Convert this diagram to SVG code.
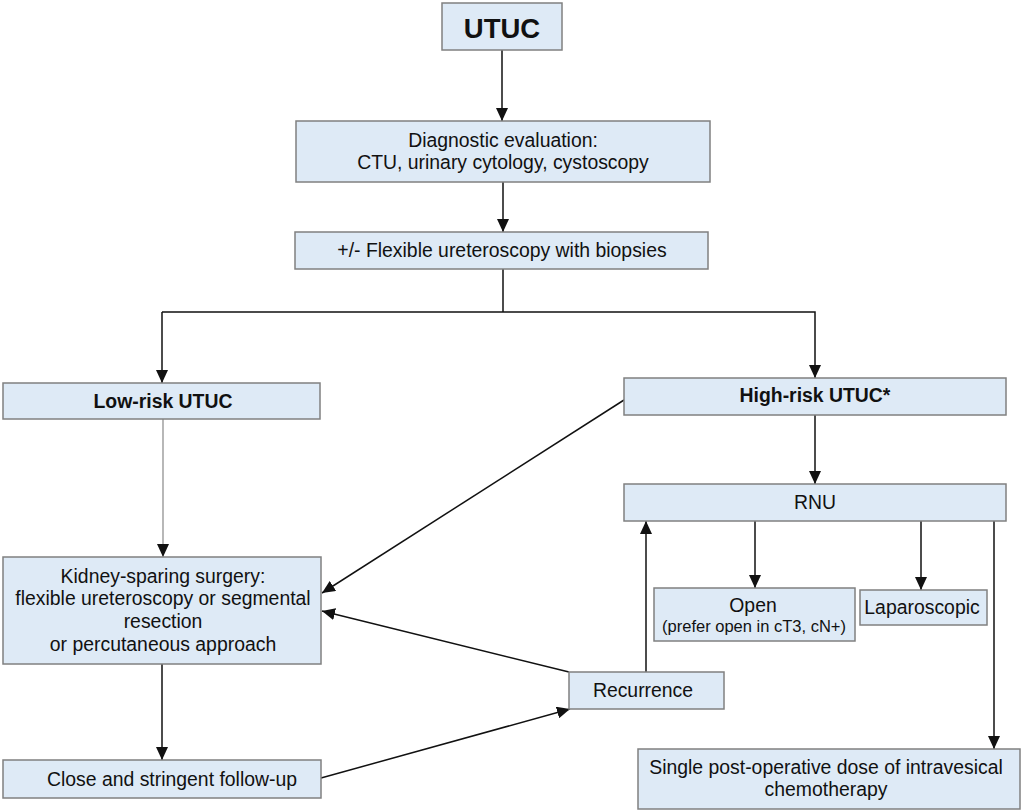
<svg xmlns="http://www.w3.org/2000/svg" width="1024" height="812" viewBox="0 0 1024 812">
<style>
.box{fill:#deeaf6;stroke:#808080;stroke-width:1.5}
.t{font-family:"Liberation Sans",Arial,sans-serif;font-size:19.4px;fill:#111;text-anchor:middle}
.b{font-weight:bold}
.s{font-size:16.5px}
.c{fill:none;stroke:#111;stroke-width:1.5}
.g{fill:none;stroke:#888;stroke-width:1.2}
</style>
<defs>
<marker id="ah" markerUnits="userSpaceOnUse" markerWidth="14" markerHeight="12" refX="13" refY="6" orient="auto">
<path d="M0,0 L13,6 L0,12 Z" fill="#111"/>
</marker>
</defs>
<rect width="1024" height="812" fill="#fff"/>
<g id="connectors">
<line class="c" x1="502" y1="50" x2="502" y2="121" marker-end="url(#ah)"/>
<line class="c" x1="503" y1="182" x2="503" y2="232" marker-end="url(#ah)"/>
<polyline class="c" points="503,269 503,312"/>
<polyline class="c" points="162,312 815,312 815,378" marker-end="url(#ah)"/>
<line class="c" x1="162" y1="312" x2="162" y2="383" marker-end="url(#ah)"/>
<line class="g" x1="163" y1="419" x2="163" y2="557" marker-end="url(#ah)"/>
<line class="c" x1="815" y1="415" x2="815" y2="484" marker-end="url(#ah)"/>
<line class="c" x1="624" y1="400" x2="322" y2="593" marker-end="url(#ah)"/>
<line class="c" x1="569" y1="672" x2="322" y2="611" marker-end="url(#ah)"/>
<line class="c" x1="162" y1="664" x2="162" y2="760" marker-end="url(#ah)"/>
<line class="c" x1="321" y1="778" x2="570" y2="709" marker-end="url(#ah)"/>
<line class="c" x1="646" y1="672" x2="646" y2="521" marker-end="url(#ah)"/>
<line class="c" x1="755" y1="521" x2="755" y2="588" marker-end="url(#ah)"/>
<line class="c" x1="921" y1="521" x2="921" y2="590" marker-end="url(#ah)"/>
<line class="c" x1="994" y1="521" x2="994" y2="749" marker-end="url(#ah)"/>
</g>
<g id="utuc"><rect class="box" x="442" y="3" width="120" height="47"/><text class="t b" x="502" y="38" style="font-size:27.5px">UTUC</text></g>
<g id="diag"><rect class="box" x="296" y="121" width="414" height="61"/><text class="t" x="503" y="147">Diagnostic evaluation:</text><text class="t" x="503" y="169">CTU, urinary cytology, cystoscopy</text></g>
<g id="flex"><rect class="box" x="295" y="232" width="413" height="37"/><text class="t" x="502" y="257">+/- Flexible ureteroscopy with biopsies</text></g>
<g id="low"><rect class="box" x="3" y="383" width="317" height="36"/><text class="t b" x="163" y="408">Low-risk UTUC</text></g>
<g id="high"><rect class="box" x="624" y="378" width="382" height="37"/><text class="t b" x="815" y="402">High-risk UTUC*</text></g>
<g id="rnu"><rect class="box" x="624" y="484" width="382" height="37"/><text class="t" x="815" y="509">RNU</text></g>
<g id="kss"><rect class="box" x="3" y="557" width="318" height="107"/><text class="t" x="163" y="583">Kidney-sparing surgery:</text><text class="t" x="163" y="605">flexible ureteroscopy or segmental</text><text class="t" x="163" y="628">resection</text><text class="t" x="163" y="651">or percutaneous approach</text></g>
<g id="follow"><rect class="box" x="3" y="760" width="318" height="38"/><text class="t" x="172" y="786">Close and stringent follow-up</text></g>
<g id="recur"><rect class="box" x="569" y="672" width="155" height="37"/><text class="t" x="643" y="697">Recurrence</text></g>
<g id="open"><rect class="box" x="654" y="588" width="201" height="53"/><text class="t" x="753" y="612">Open</text><text class="t s" x="754" y="632">(prefer open in cT3, cN+)</text></g>
<g id="lap"><rect class="box" x="860" y="590" width="127" height="35"/><text class="t" x="922" y="614">Laparoscopic</text></g>
<g id="single"><rect class="box" x="638" y="749" width="382" height="60"/><text class="t" x="826" y="774">Single post-operative dose of intravesical</text><text class="t" x="826" y="796">chemotherapy</text></g>
</svg>
